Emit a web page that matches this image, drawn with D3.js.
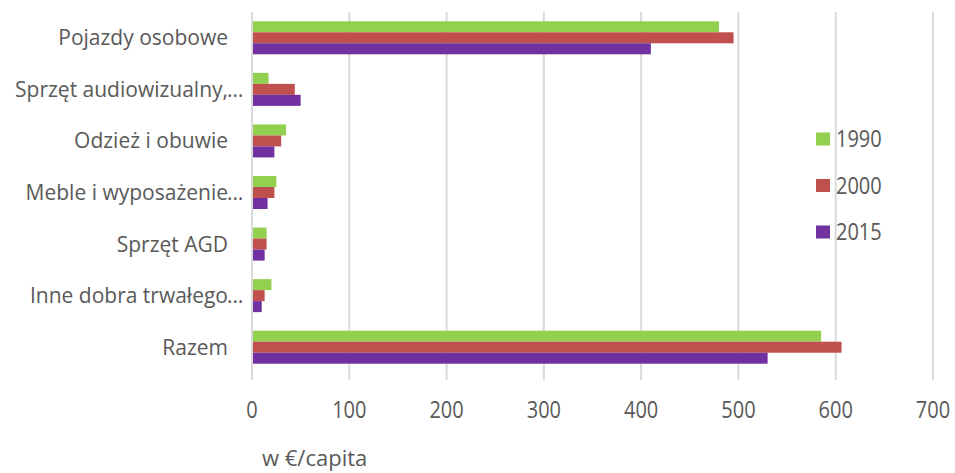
<!DOCTYPE html>
<html>
<head>
<meta charset="utf-8">
<script src="https://cdn.jsdelivr.net/npm/d3@7/dist/d3.min.js"></script>
<style>
  html, body { margin: 0; padding: 0; background: #fff; }
  svg { display: block; font-family: "Open Sans", Lato, sans-serif; }
</style>
</head>
<body>
<svg id="chart" width="955" height="473"></svg>
<script>
// Durable goods spending per capita by category
const categories = [
  "Pojazdy osobowe",
  "Sprzęt audiowizualny,…",
  "Odzież i obuwie",
  "Meble i wyposażenie…",
  "Sprzęt AGD",
  "Inne dobra trwałego…",
  "Razem"
];
const years = ["1990", "2000", "2015"];
const values1990 = [480, 17, 35, 25, 15, 20, 585];
const values2000 = [495, 44, 30, 23, 15, 13, 606];
const values2015 = [410, 50, 23, 16, 13, 10, 530];
const xTicks = [0, 100, 200, 300, 400, 500, 600, 700];
const axisTitle = "w €/capita";

const colors = ["#92d050", "#c0504d", "#7030a0"];
const series = [values1990, values2000, values2015];
const textColor = "#595959";

const svg = d3.select("#chart");
const margin = { left: 252, right: 22, top: 12, bottom: 100 };
const width = 955 - margin.left - margin.right;
const height = 473 - margin.top - margin.bottom;

const x = d3.scaleLinear().domain([0, 700]).range([margin.left, margin.left + width]);
const y = d3.scaleBand().domain(categories).range([margin.top, margin.top + height]).paddingInner(0.36).paddingOuter(0.18);
const ySub = d3.scaleBand().domain(years).range([0, y.bandwidth()]);

// vertical gridlines
svg.append("g")
  .selectAll("line")
  .data(xTicks)
  .join("line")
  .attr("x1", d => x(d)).attr("x2", d => x(d))
  .attr("y1", margin.top).attr("y2", margin.top + height + 7)
  .attr("stroke", "#d9d9d9")
  .attr("stroke-width", 2);

// bars
years.forEach((yr, si) => {
  svg.append("g")
    .selectAll("rect")
    .data(categories.map((c, i) => ({ c, v: series[si][i] })))
    .join("rect")
    .attr("x", x(0) + 1)
    .attr("y", d => y(d.c) + ySub(yr))
    .attr("width", d => x(d.v) - x(0) - 1)
    .attr("height", ySub.bandwidth())
    .attr("fill", colors[si]);
});

// x tick labels (tall numerals)
svg.append("g")
  .selectAll("text")
  .data(xTicks)
  .join("text")
  .attr("transform", d => `translate(${x(d)},418) scale(1,1.22)`)
  .attr("text-anchor", "middle")
  .attr("font-size", 20)
  .attr("fill", textColor)
  .text(d => d);

// category labels (ellipsis hangs past the text edge)
const catG = svg.append("g");
categories.forEach(c => {
  const trunc = c.endsWith("…");
  const cy = y(c) + y.bandwidth() / 2;
  catG.append("text")
    .attr("x", 228)
    .attr("y", cy)
    .attr("dy", "0.36em")
    .attr("text-anchor", "end")
    .attr("font-size", 21)
    .attr("fill", textColor)
    .text(trunc ? c.slice(0, -1) : c);
  if (trunc) {
    catG.append("text")
      .attr("x", 227)
      .attr("y", cy)
      .attr("dy", "0.36em")
      .attr("font-size", 21)
      .attr("fill", textColor)
      .text("…");
  }
});

// legend
const legend = svg.append("g");
years.forEach((yr, i) => {
  const ly = 139 + i * 46.5;
  legend.append("rect")
    .attr("x", 816).attr("y", ly - 6.5)
    .attr("width", 14).attr("height", 13)
    .attr("fill", colors[i]);
  legend.append("text")
    .attr("transform", `translate(836,${ly + 8}) scale(1,1.17)`)
    .attr("font-size", 20)
    .attr("fill", textColor)
    .text(yr);
});

// axis title
svg.append("text")
  .attr("x", 262).attr("y", 466)
  .attr("font-size", 22)
  .attr("fill", textColor)
  .text(axisTitle);
</script>
</body>
</html>
